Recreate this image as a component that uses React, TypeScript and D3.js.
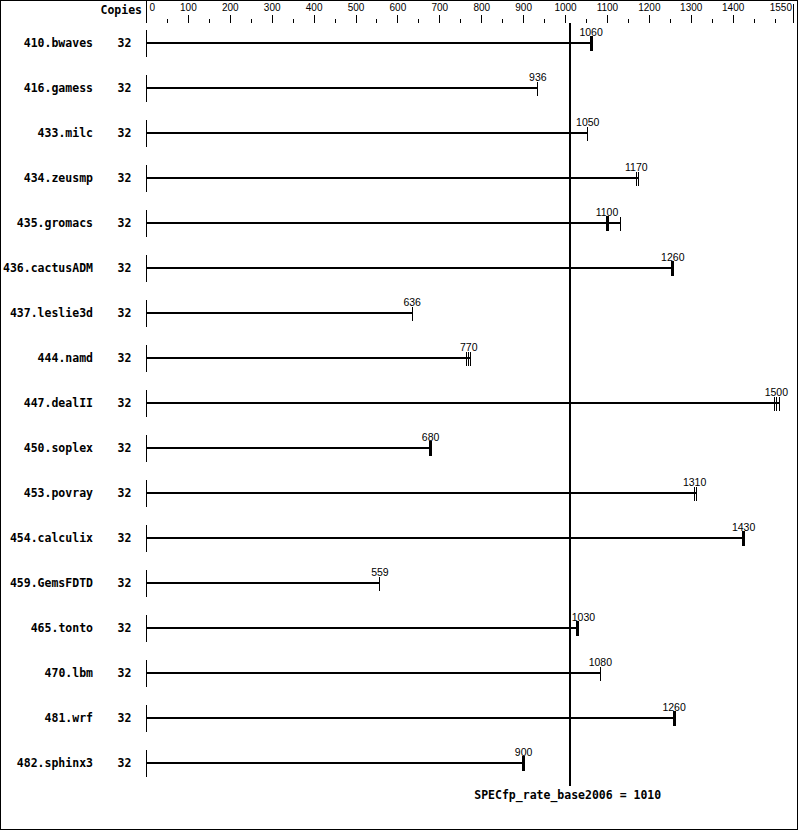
import React from 'react';
import * as d3 from 'd3';

const benchmarks = [
  '410.bwaves', '416.gamess', '433.milc', '434.zeusmp', '435.gromacs', '436.cactusADM',
  '437.leslie3d', '444.namd', '447.dealII', '450.soplex', '453.povray', '454.calculix',
  '459.GemsFDTD', '465.tonto', '470.lbm', '481.wrf', '482.sphinx3',
];
const copies = [32, 32, 32, 32, 32, 32, 32, 32, 32, 32, 32, 32, 32, 32, 32, 32, 32];
const valueLabels = ['1060', '936', '1050', '1170', '1100', '1260', '636', '770', '1500', '680', '1310', '1430', '559', '1030', '1080', '1260', '900'];
const medians = [1061, 934, 1053, 1169, 1099, 1256, 634, 769, 1503, 678, 1308, 1425, 557, 1028, 1083, 1259, 900];
const boldMedian = [true, false, false, false, true, true, false, false, false, true, false, true, false, true, false, true, true];
const extraRuns: number[][] = [[], [], [], [1175], [1132], [], [], [764, 774], [1498, 1510], [], [1313], [], [], [], [], [], []];
const baseRate = 1010;
const baseLabel = 'SPECfp_rate_base2006 = 1010';
const axisMax = 1550;
const majorTicks = d3.range(0, 1401, 100);
const minorTicks = d3.range(50, 1501, 100).concat([1500]);

const MONO = "'DejaVu Sans Mono', monospace";
const SANS = "'Liberation Sans', Arial, sans-serif";

export default function App() {
  const W = 799, H = 831;
  const x = d3.scaleLinear().domain([0, axisMax]).range([146.5, 796]);
  const rowY = (i: number) => 43 + 45 * i;
  const refX = x(baseRate);
  const lastY = rowY(benchmarks.length - 1);

  return (
    <div style={{ position: 'absolute', left: 0, top: 0 }}>
      <svg width={W} height={H} style={{ display: 'block', background: '#fff' }}>
        <rect x={0.5} y={0.5} width={W - 2} height={H - 2} fill="#fff" stroke="#000" strokeWidth={1} shapeRendering="crispEdges" />
        <text x={142} y={14} textAnchor="end" fontFamily={MONO} fontWeight="bold" fontSize={11.5}>Copies</text>
        <line x1={x(0)} x2={x(0)} y1={1} y2={23} stroke="#000" strokeWidth={1} shapeRendering="crispEdges" />
        {majorTicks.map((t) => (
          <g key={'M' + t}>
            {t > 0 && <line x1={x(t)} x2={x(t)} y1={15} y2={23} stroke="#000" strokeWidth={1} shapeRendering="crispEdges" />}
            <text x={t === 0 ? x(t) + 3 : x(t)} y={10.5} textAnchor={t === 0 ? 'start' : 'middle'} fontFamily={SANS} fontSize={10}>{t}</text>
          </g>
        ))}
        {minorTicks.map((t) => (
          <line key={'m' + t} x1={x(t)} x2={x(t)} y1={18.5} y2={23} stroke="#000" strokeWidth={1} shapeRendering="crispEdges" />
        ))}
        <line x1={x(axisMax) - 3} x2={x(axisMax) - 3} y1={4} y2={23} stroke="#000" strokeWidth={1} shapeRendering="crispEdges" />
        <text x={x(axisMax) - 4} y={10.5} textAnchor="end" fontFamily={SANS} fontSize={10}>{axisMax}</text>

        {benchmarks.map((b, i) => {
          const y = rowY(i);
          const runs = [medians[i], ...extraRuns[i]];
          const maxRun = Math.max(...runs);
          const label = valueLabels[i];
          const tw = label.length * 0.556 * 10.5;
          let lx = x(medians[i]);
          let anchor: 'middle' | 'start' = 'middle';
          if (Math.abs(lx - refX) < tw / 2 + 1) {
            lx = refX + 2;
            anchor = 'start';
          }
          return (
            <g key={b}>
              <text x={93} y={y + 4} textAnchor="end" fontFamily={MONO} fontWeight="bold" fontSize={11.5}>{b}</text>
              <text x={124.5} y={y + 4} textAnchor="middle" fontFamily={MONO} fontWeight="bold" fontSize={11.5}>{copies[i]}</text>
              <line x1={x(0)} x2={x(0)} y1={y - 13} y2={y + 14} stroke="#000" strokeWidth={1} shapeRendering="crispEdges" />
              <line x1={x(0)} x2={x(maxRun)} y1={y} y2={y} stroke="#000" strokeWidth={2} shapeRendering="crispEdges" />
              {extraRuns[i].map((r, k) => (
                <line key={k} x1={x(r)} x2={x(r)} y1={y - 6} y2={y + 8} stroke="#000" strokeWidth={1} shapeRendering="crispEdges" />
              ))}
              <line x1={x(medians[i])} x2={x(medians[i])} y1={boldMedian[i] ? y - 7 : y - 6} y2={y + 8} stroke="#000" strokeWidth={boldMedian[i] ? 3 : 1} shapeRendering="crispEdges" />
              <text x={lx} y={y - 7.5} textAnchor={anchor} fontFamily={SANS} fontSize={10.5}>{label}</text>
            </g>
          );
        })}

        <line x1={refX} x2={refX} y1={22.5} y2={lastY + 23} stroke="#000" strokeWidth={2} shapeRendering="crispEdges" />
        <text x={refX - 2} y={799} textAnchor="middle" fontFamily={MONO} fontWeight="bold" fontSize={11.5}>{baseLabel}</text>
      </svg>
    </div>
  );
}
